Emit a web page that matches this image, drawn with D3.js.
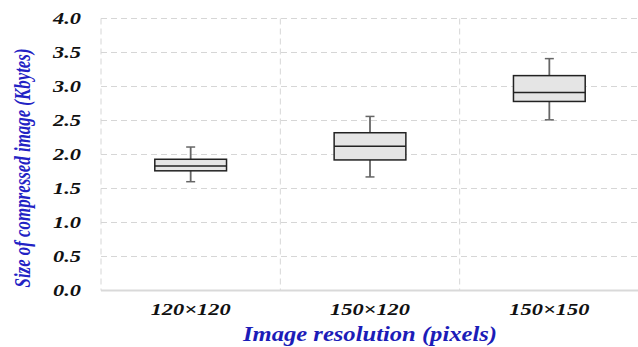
<!DOCTYPE html>
<html>
<head>
<meta charset="utf-8">
<script src="https://cdn.jsdelivr.net/npm/d3@7"></script>
<style>
  body { margin: 0; background: #fff; }
  svg { display: block; }
</style>
</head>
<body>
<script>
var w = 638;
var h = 347;

// box plot values (Kbytes)
var categories = ["120×120", "150×120", "150×150"];
var whiskerLow  = [1.60, 1.67, 2.51];
var q1          = [1.76, 1.92, 2.78];
var median      = [1.83, 2.12, 2.91];
var q3          = [1.93, 2.32, 3.16];
var whiskerHigh = [2.11, 2.56, 3.41];
var yTicks = [0, 0.5, 1, 1.5, 2, 2.5, 3, 3.5, 4];

var rows = categories.map(function(c, i) {
  return {cat: c, lo: whiskerLow[i], q1: q1[i], med: median[i], q3: q3[i], hi: whiskerHigh[i]};
});

var pLeft = 101, pRight = 639, pTop = 18.5, pBottom = 290.5;

var x = d3.scaleBand().domain(categories).range([pLeft, pRight]).padding(0);
var y = d3.scaleLinear().domain([0, 4]).range([pBottom, pTop]);

var svg = d3.select("body")
            .append("svg")
              .attr("width", w)
              .attr("height", h);

var font = "'Liberation Serif', 'Times New Roman', serif";

// horizontal grid
svg.append("g")
  .selectAll("line")
  .data(yTicks.filter(function(d) { return d > 0; }))
  .enter()
  .append("line")
    .attr("x1", pLeft)
    .attr("x2", pRight)
    .attr("y1", function(d) { return y(d); })
    .attr("y2", function(d) { return y(d); })
    .attr("stroke", "#d6d6d6")
    .attr("stroke-width", 1)
    .attr("stroke-dasharray", "6,4");

// vertical grid at band edges
var edges = categories.map(function(c) { return x(c); });
svg.append("g")
  .selectAll("line")
  .data(edges)
  .enter()
  .append("line")
    .attr("x1", function(d) { return d; })
    .attr("x2", function(d) { return d; })
    .attr("y1", pTop)
    .attr("y2", pBottom)
    .attr("stroke", "#d6d6d6")
    .attr("stroke-width", 1)
    .attr("stroke-dasharray", "6,4");

// bottom axis line
svg.append("line")
  .attr("x1", pLeft)
  .attr("x2", pRight)
  .attr("y1", pBottom)
  .attr("y2", pBottom)
  .attr("stroke", "#d9d9d9")
  .attr("stroke-width", 2);

// y axis labels
var yAxis = svg.append("g")
  .attr("transform", "translate(" + pLeft + ",0)")
  .call(d3.axisLeft(y).tickValues(yTicks).tickFormat(d3.format(".1f")).tickSize(0).tickPadding(20));
yAxis.select(".domain").remove();
yAxis.selectAll("text")
  .attr("font-family", font)
  .attr("font-size", "16px")
  .attr("font-weight", "bold")
  .attr("font-style", "italic")
  .attr("fill", "#111")
  .attr("textLength", 28)
  .attr("lengthAdjust", "spacingAndGlyphs");

// x axis labels
var xAxis = svg.append("g")
  .attr("transform", "translate(0," + pBottom + ")")
  .call(d3.axisBottom(x).tickSize(0).tickPadding(12));
xAxis.select(".domain").remove();
xAxis.selectAll("text")
  .attr("font-family", font)
  .attr("font-size", "17px")
  .attr("font-weight", "bold")
  .attr("font-style", "italic")
  .attr("fill", "#111")
  .attr("dy", "0.71em")
  .attr("textLength", 80)
  .attr("lengthAdjust", "spacingAndGlyphs");

// boxes
var bw = x.bandwidth() * 0.4;
var capW = 9;
var boxes = svg.append("g")
  .selectAll("g")
  .data(rows)
  .enter()
  .append("g")
    .attr("transform", function(d) { return "translate(" + (x(d.cat) + x.bandwidth() / 2) + ",0)"; });

boxes.append("line")
  .attr("x1", 0).attr("x2", 0)
  .attr("y1", function(d) { return y(d.hi); })
  .attr("y2", function(d) { return y(d.q3); })
  .attr("stroke", "#666").attr("stroke-width", 1.8);
boxes.append("line")
  .attr("x1", 0).attr("x2", 0)
  .attr("y1", function(d) { return y(d.q1); })
  .attr("y2", function(d) { return y(d.lo); })
  .attr("stroke", "#666").attr("stroke-width", 1.8);
boxes.append("line")
  .attr("x1", -capW / 2).attr("x2", capW / 2)
  .attr("y1", function(d) { return y(d.hi); })
  .attr("y2", function(d) { return y(d.hi); })
  .attr("stroke", "#666").attr("stroke-width", 1.5);
boxes.append("line")
  .attr("x1", -capW / 2).attr("x2", capW / 2)
  .attr("y1", function(d) { return y(d.lo); })
  .attr("y2", function(d) { return y(d.lo); })
  .attr("stroke", "#666").attr("stroke-width", 1.5);

boxes.append("rect")
  .attr("x", -bw / 2)
  .attr("width", bw)
  .attr("y", function(d) { return y(d.q3); })
  .attr("height", function(d) { return y(d.q1) - y(d.q3); })
  .attr("fill", "#e5e5e5")
  .attr("stroke", "#222")
  .attr("stroke-width", 1.5);

boxes.append("line")
  .attr("x1", -bw / 2).attr("x2", bw / 2)
  .attr("y1", function(d) { return y(d.med); })
  .attr("y2", function(d) { return y(d.med); })
  .attr("stroke", "#222").attr("stroke-width", 1.5);

// axis titles
svg.append("text")
  .text("Image resolution (pixels)")
  .attr("x", 370)
  .attr("y", 341)
  .attr("text-anchor", "middle")
  .attr("font-family", font)
  .attr("font-size", "21px")
  .attr("font-weight", "bold")
  .attr("font-style", "italic")
  .attr("fill", "#1c1cb8")
  .attr("textLength", 254)
  .attr("lengthAdjust", "spacingAndGlyphs");

svg.append("text")
  .text("Size of compressed image (Kbytes)")
  .attr("transform", "translate(30,168) rotate(-90)")
  .attr("text-anchor", "middle")
  .attr("font-family", font)
  .attr("font-size", "23px")
  .attr("font-weight", "bold")
  .attr("font-style", "italic")
  .attr("fill", "#2222c4")
  .attr("textLength", 239)
  .attr("lengthAdjust", "spacingAndGlyphs");
</script>
</body>
</html>
